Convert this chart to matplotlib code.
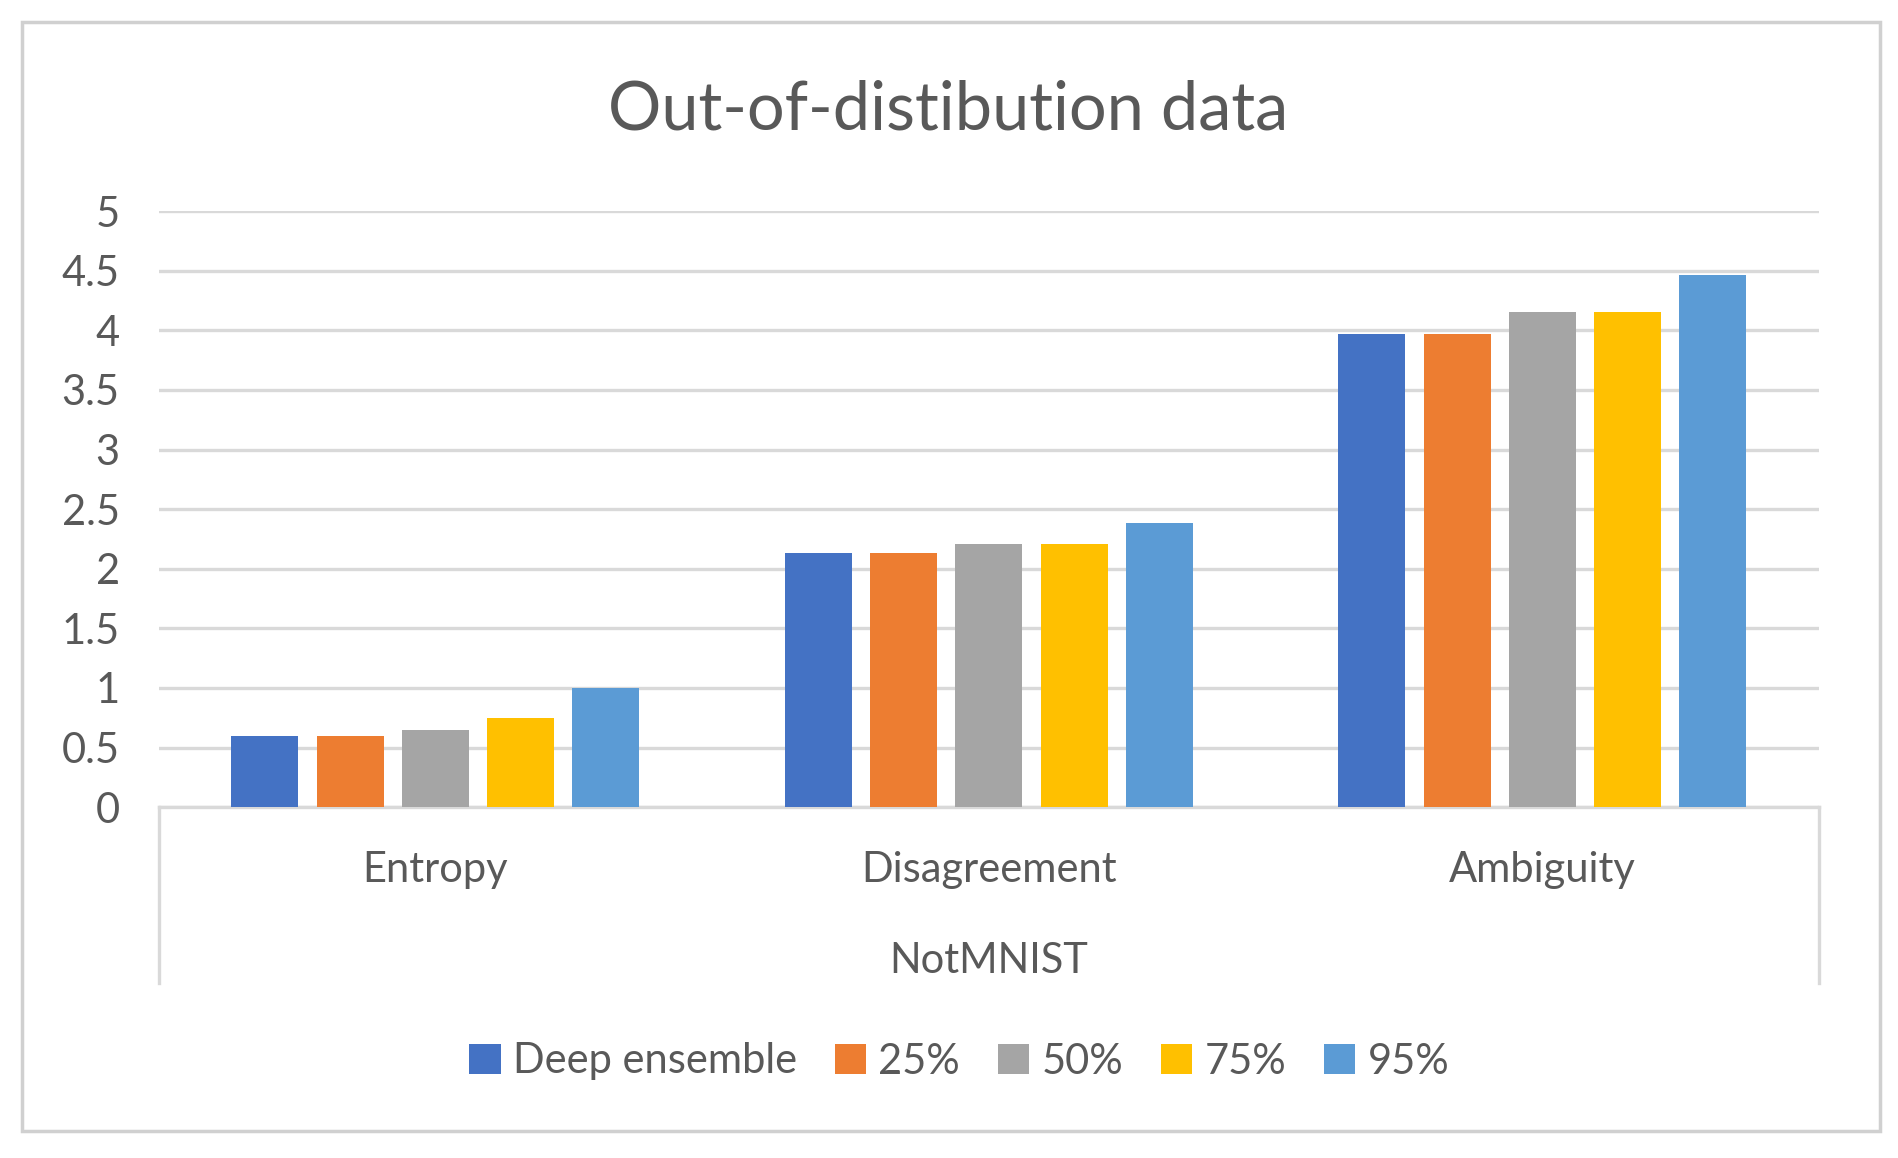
import numpy as np
import matplotlib.pyplot as plt
from matplotlib.patches import Rectangle
from matplotlib.lines import Line2D
import matplotlib.transforms as mtransforms

plt.rcParams['font.family'] = ['Lato', 'DejaVu Sans']

# data
categories = ['Entropy', 'Disagreement', 'Ambiguity']
group_label = 'NotMNIST'
series_names = ['Deep ensemble', '25%', '50%', '75%', '95%']
deep_ensemble = [0.60, 2.13, 3.97]
p25 = [0.60, 2.13, 3.97]
p50 = [0.65, 2.21, 4.15]
p75 = [0.75, 2.21, 4.15]
p95 = [1.00, 2.38, 4.46]
yticks = [0, 0.5, 1, 1.5, 2, 2.5, 3, 3.5, 4, 4.5, 5]
ytick_labels = ['0', '0.5', '1', '1.5', '2', '2.5', '3', '3.5', '4', '4.5', '5']

colors = ['#4472C4', '#ED7D31', '#A5A5A5', '#FFC000', '#5B9BD5']
text_col = '#595959'
grid_col = '#D9D9D9'

fig = plt.figure(figsize=(18.99, 11.58), dpi=100)
ax = fig.add_axes([0.0835, 0.303, 0.8745, 0.5147])

x = np.arange(len(categories))
pitch = 0.154
width = 0.121
all_series = [deep_ensemble, p25, p50, p75, p95]
for i, (vals, name, c) in enumerate(zip(all_series, series_names, colors)):
    ax.bar(x + (i - 2) * pitch, vals, width, color=c, label=name, zorder=3)

ax.set_xlim(-0.5, len(categories) - 0.5)
ax.set_ylim(0, 5)
ax.set_yticks(yticks)
ax.set_yticklabels(ytick_labels)
ax.tick_params(axis='y', length=0, pad=28, labelsize=30, labelcolor=text_col)
ax.set_xticks([])
ax.yaxis.grid(True, color=grid_col, linewidth=2.4, zorder=0)
for s in ['top', 'right', 'left']:
    ax.spines[s].set_visible(False)
ax.spines['bottom'].set_color(grid_col)
ax.spines['bottom'].set_linewidth(2.4)

# multi-level category axis
trans = mtransforms.blended_transform_factory(ax.transData, fig.transFigure)
for xi, cat in zip(x, categories):
    ax.text(xi, 1 - 721 / 960, cat, transform=trans, ha='center', va='center',
            fontsize=30, color=text_col)
ax.text(1, 1 - 797 / 960, group_label, transform=trans, ha='center', va='center',
        fontsize=30, color=text_col)
for xv in [-0.5, len(categories) - 0.5]:
    fig.add_artist(Line2D([xv, xv], [0.303, 1 - 815 / 960], transform=trans,
                          color=grid_col, linewidth=2.4))

fig.text(783 / 1568, 1 - 92 / 960, 'Out-of-distibution data', ha='center', va='center',
         fontsize=48, color=text_col)

leg = fig.legend(loc='center', bbox_to_anchor=(792 / 1568, 1 - 880 / 960), ncol=5,
                 frameon=False, fontsize=30, handlelength=0.75, handleheight=0.75,
                 handletextpad=0.3, columnspacing=0.9, labelcolor=text_col)

# outer chart border
fig.add_artist(Rectangle((18 / 1568, 1 - 938 / 960), (1552 - 18) / 1568, (938 - 18) / 960,
                         transform=fig.transFigure, fill=False, edgecolor='#D0D0D0',
                         linewidth=2.5))

fig.savefig('out.png', dpi=100, facecolor='white')
